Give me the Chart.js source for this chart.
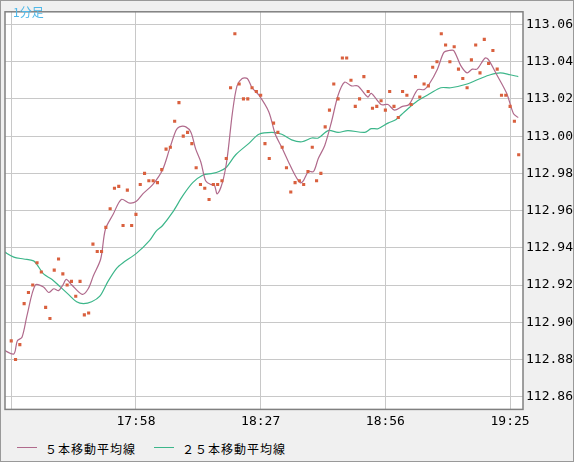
<!DOCTYPE html>
<html><head><meta charset="utf-8">
<script src="https://cdn.jsdelivr.net/npm/chart.js@4"></script>
<style>
html,body{margin:0;padding:0;background:#f0f0f0;}
#wrap{position:relative;width:572px;height:460px;border:1px solid #999;background:#f0f0f0;}
#c{position:absolute;left:0;top:0;}
#title{position:absolute;left:12px;top:2px;font:12px "Noto Sans CJK JP";color:#4fb8e8;}
.lg{position:absolute;top:439px;font:12px "Noto Sans CJK JP";color:#000;letter-spacing:1px;}
.sw{position:absolute;top:446px;width:20px;height:1px;}
</style></head><body>
<div id="wrap">
<canvas id="c" width="572" height="432"></canvas>
<div id="title">1分足</div>
<div class="sw" style="left:16px;background:#b06a8c"></div><div class="lg" style="left:44px">５本移動平均線</div>
<div class="sw" style="left:153px;background:#3cb68a"></div><div class="lg" style="left:181px">２５本移動平均線</div>
</div>
<script>
const startMinute = 17*60+29;
const prices = [112.890,112.880,112.888,112.910,112.916,112.920,112.932,112.927,112.908,112.902,
112.928,112.934,112.926,112.920,112.922,112.914,112.922,112.904,112.905,112.942,
112.938,112.938,112.951,112.961,112.972,112.973,112.952,112.971,112.952,112.958,
112.974,112.980,112.976,112.976,112.975,112.982,112.993,112.994,113.008,113.018,
113.000,113.002,112.996,112.983,112.974,112.972,112.966,112.974,112.974,112.976,
112.988,113.026,113.055,113.028,113.020,113.020,113.026,113.024,113.022,112.996,
112.988,113.007,113.002,112.994,112.983,112.970,112.975,112.976,112.974,112.981,
112.994,112.976,112.980,113.005,113.014,113.028,113.020,113.042,113.042,113.030,
113.016,113.020,113.032,113.024,113.015,113.016,113.019,113.014,113.024,113.016,
113.010,113.024,113.022,113.017,113.032,113.021,113.028,113.027,113.037,113.040,
113.055,113.049,113.040,113.048,113.036,113.031,113.026,113.041,113.049,113.034,
113.052,113.039,113.046,113.036,113.022,113.022,113.016,113.008,112.990];
const ma5T = [-1.7,0.6,1.4,2.5,3.7,5.6,7.5,8.7,9.9,11.0,12.0,12.8,14.1,16.5,17.9,19.1,20.8,21.9,23.7,25.6,27.6,29.1,30.6,32.9,35.2,36.8,38.3,39.1,40.6,41.8,42.9,44.1,45.2,46.4,47.2,47.9,49.1,50.2,51.4,52.5,53.7,54.9,56.0,57.6,59.9,61.4,62.9,64.5,66.0,67.2,67.9,69.1,70.3,71.4,72.9,74.5,76.0,77.5,79.1,80.6,82.9,83.7,86.0,87.6,89.1,91.0,92.5,94.5,96.0,97.2,99.1,100.6,101.8,102.9,104.5,106.0,107.2,108.3,110.2,111.0,112.9,115.2,116.8,117.9];
const ma5V = [112.885,112.883,112.890,112.892,112.904,112.920,112.919,112.916,112.918,112.917,112.920,112.923,112.920,112.915,112.918,112.925,112.934,112.950,112.958,112.966,112.964,112.965,112.969,112.974,112.982,112.993,113.003,113.005,113.005,113.002,112.993,112.986,112.976,112.974,112.974,112.969,112.975,112.988,113.012,113.027,113.031,113.031,113.026,113.022,113.013,113.001,112.994,112.986,112.979,112.975,112.976,112.981,112.981,112.988,112.995,113.008,113.022,113.029,113.027,113.027,113.021,113.023,113.017,113.017,113.014,113.016,113.017,113.025,113.025,113.028,113.036,113.045,113.046,113.046,113.038,113.034,113.036,113.036,113.042,113.041,113.033,113.023,113.012,113.010];
const ma25T = [-1.7,0.6,2.9,5.2,6.0,7.5,9.5,11.4,13.3,15.2,16.8,18.7,20.6,22.5,24.5,26.0,29.1,32.2,33.7,35.2,37.5,39.9,42.2,44.5,46.8,48.3,49.9,52.2,55.2,57.6,60.6,62.9,65.2,67.6,69.9,71.4,73.7,76.0,78.3,82.2,83.7,85.3,87.6,89.5,91.4,94.5,97.5,99.9,102.2,106.0,109.1,111.4,113.7,116.0,117.9];
const ma25V = [112.938,112.935,112.934,112.933,112.931,112.926,112.923,112.919,112.915,112.911,112.910,112.911,112.914,112.922,112.929,112.932,112.937,112.944,112.949,112.952,112.959,112.968,112.975,112.979,112.980,112.981,112.983,112.990,112.996,113.001,113.002,113.001,112.998,112.997,112.999,112.999,113.003,113.002,113.003,113.002,113.004,113.004,113.007,113.009,113.013,113.019,113.023,113.026,113.026,113.028,113.031,113.033,113.034,113.033,113.032];
const xTicks = [0,29,58,87,116];
const yTicks = [112.86,112.88,112.90,112.92,112.94,112.96,112.98,113.00,113.02,113.04,113.06];

const pad = n => String(n).padStart(2,'0');
const fmt = t => { const m = startMinute + t; return Math.floor(m/60)+':'+pad(m%60); };

const bg = { id:'bg', beforeDraw(ch){ const a=ch.chartArea, c=ch.ctx; c.save(); c.fillStyle='#fff'; c.fillRect(a.left,a.top,a.right-a.left,a.bottom-a.top); c.restore(); },
  afterDraw(ch){ const a=ch.chartArea, c=ch.ctx; c.save(); c.strokeStyle='#808080'; c.lineWidth=1.5; c.strokeRect(a.left,a.top,a.right-a.left,a.bottom-a.top); c.restore(); } };

new Chart(document.getElementById('c'), {
  type:'scatter',
  data:{ datasets:[
    { data: prices.map((v,i)=>({x:i,y:v})), pointStyle:'rect', pointRadius:2.2, backgroundColor:'#d9603e', borderWidth:0, order:1 },
    { type:'line', data: ma5T.map((t,i)=>({x:t,y:ma5V[i]})), borderColor:'#b06a8c', borderWidth:1.2, pointRadius:0, tension:0.3, order:2 },
    { type:'line', data: ma25T.map((t,i)=>({x:t,y:ma25V[i]})), borderColor:'#3cb68a', borderWidth:1.2, pointRadius:0, tension:0.3, order:3 }
  ]},
  options:{
    responsive:false, animation:false, clip:true,
    layout:{ padding:{left:0,top:0,right:0,bottom:0} },
    plugins:{ legend:{display:false}, tooltip:{enabled:false} },
    scales:{
      x:{ type:'linear', min:-1.45, max:119,
        afterBuildTicks(s){ s.ticks = xTicks.map(v=>({value:v})); },
        ticks:{ callback:v=> v===0 ? '' : fmt(v), color:'#000', font:{family:'DejaVu Sans Mono',size:13}, maxRotation:0, autoSkip:false, padding:4 },
        grid:{ color:'#c8c8c8', lineWidth:1, drawTicks:false }, border:{display:false} },
      y:{ position:'right', min:112.8532, max:113.0668,
        afterBuildTicks(s){ s.ticks = yTicks.map(v=>({value:v})); },
        afterFit(s){ s.width = 50; },
        ticks:{ callback:v=>v.toFixed(2), color:'#000', font:{family:'DejaVu Sans Mono',size:13}, padding:3 },
        grid:{ color:'#c8c8c8', lineWidth:1, drawTicks:false }, border:{display:false} }
    }
  },
  plugins:[bg]
});
</script>
</body></html>
